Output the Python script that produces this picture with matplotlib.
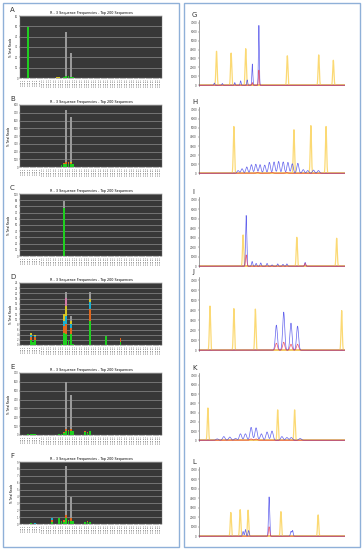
import numpy as np
import matplotlib
matplotlib.use("Agg")
import matplotlib.pyplot as plt
from matplotlib.patches import Rectangle

W, H = 364, 550

# ---- left panels: stacked sequence frequency bars ----
n_cat = 60
cat_labels = ["Seq %d" % (i + 1) for i in range(n_cat)]
stack_colors = ["#1fcf1f", "#e0661c", "#1aaed0", "#d6c424", "#d27aa8", "#9a9a9a"]

a_idx = [3, 15, 16, 18, 19, 20, 21, 22]
a_stack = [[49, 0, 0, 0, 0, 0.5], [0.3, 0, 0, 0.4, 0, 0], [0.2, 0, 0, 0.5, 0, 0],
           [0.8, 0.3, 0, 0, 0, 0], [1.5, 0.5, 0, 0, 0, 42.5], [1.5, 0.5, 0, 0, 0, 0],
           [1.0, 0.4, 0, 0, 0, 22.5], [0.8, 0, 0, 0, 0, 0]]
a_ymax, a_step = 60, 10

b_idx = [17, 18, 19, 20, 21, 22]
b_stack = [[30, 0, 0, 0, 0, 0], [40, 10, 0, 0, 0, 0], [40, 20, 0, 10, 0, 670],
           [45, 15, 0, 0, 0, 0], [40, 15, 0, 10, 0, 575], [35, 10, 0, 0, 0, 0]]
b_ymax, b_step = 800, 100

c_idx = [18]
c_stack = [[77, 0, 0, 0, 0, 12]]
c_ymax, c_step = 100, 10

d_idx = [4, 5, 6, 17, 18, 19, 20, 21, 22, 29, 36, 42]
d_stack = [[1.9, 1.1, 0.9, 0.6, 0, 0.2], [1.2, 0, 0, 0, 0, 0], [2.0, 1.1, 0.3, 0.3, 0, 0.3],
           [0.4, 0, 0, 0, 0, 0], [4.6, 2.7, 2.0, 2.6, 0, 0], [4.2, 4.0, 3.0, 4.0, 3.0, 2.4],
           [1.9, 0, 0, 0, 0, 0], [4.3, 2.4, 1.3, 1.3, 0, 2.0], [0.3, 0, 0, 0, 0, 0],
           [9.3, 4.6, 2.6, 1.3, 0, 2.8], [3.4, 0, 0, 0, 0, 0], [1.0, 1.7, 0, 0, 0, 0]]
d_ymax, d_step = 24, 2

e_idx = [3, 4, 5, 6, 16, 17, 18, 19, 20, 21, 22, 27, 28, 29]
e_stack = [[8, 0, 0, 0, 0, 0], [6, 0, 0, 0, 0, 0], [8, 0, 0, 0, 0, 0], [10, 0, 0, 0, 0, 0],
           [15, 0, 0, 0, 0, 0], [15, 0, 0, 0, 0, 0], [25, 5, 0, 0, 0, 0],
           [40, 30, 0, 0, 0, 525], [45, 15, 0, 0, 0, 0], [40, 30, 0, 0, 0, 385],
           [40, 0, 0, 0, 0, 0], [35, 5, 0, 0, 0, 0], [25, 5, 0, 0, 0, 0], [40, 5, 0, 0, 0, 0]]
e_ymax, e_step = 700, 100

f_idx = [4, 6, 13, 16, 17, 18, 19, 20, 21, 22, 27, 28, 29]
f_stack = [[0.15, 0, 0, 0, 0, 0], [0, 0, 0.1, 0, 0, 0], [0.3, 0.3, 0.3, 0, 0, 0],
           [0.8, 0, 0, 0, 0, 0], [0.4, 0, 0, 0, 0, 0], [0.3, 0.3, 0, 0, 0, 0],
           [0.8, 0.5, 0, 0, 0, 7.1], [0.4, 0.2, 0, 0, 0, 0], [0.5, 0.4, 0, 0, 0, 3.0],
           [0.4, 0.1, 0, 0, 0, 0], [0.3, 0, 0, 0, 0, 0], [0.3, 0.1, 0, 0, 0, 0], [0.3, 0, 0, 0, 0, 0]]
f_ymax, f_step = 9, 1

# ---- right panels: electropherogram peaks (scan position, height RFU) ----
g_yel_x = [120, 220, 320, 605, 820, 920]
g_yel_h = [3800, 3600, 4100, 3300, 3400, 2800]
g_blu_x = [105, 245, 285, 330, 365, 370, 410, 160]
g_blu_h = [250, 300, 500, 600, 2300, 300, 6700, 200]
g_red_x = [410, 365]
g_red_h = [1700, 300]

h_yel_x = [239, 650, 766, 870]
h_yel_h = [5150, 4800, 5250, 5150]
h_blu_x = [268, 295, 327, 359, 389, 418, 450, 482, 514, 545, 577, 609, 639, 677, 714, 745, 784, 818]
h_blu_h = [300, 500, 700, 950, 1000, 950, 900, 1200, 1250, 1300, 1250, 1200, 1050, 1100, 400, 300, 350, 300]
h_red_x = [400, 500, 600]
h_red_h = [80, 100, 80]

i_yel_x = [302, 670, 943]
i_yel_h = [3300, 3050, 2950]
i_blu_x = [323, 364, 391, 423, 466, 500, 539, 575, 602, 727]
i_blu_h = [5350, 500, 300, 350, 300, 150, 250, 200, 250, 400]
i_red_x = [323, 727]
i_red_h = [1200, 300]

j_yel_x = [75, 239, 386, 977]
j_yel_h = [4400, 4150, 4100, 3950]
j_blu_x = [530, 580, 630, 675]
j_blu_h = [2500, 3800, 2700, 2400]
j_red_x = [530, 580, 630, 675]
j_red_h = [700, 800, 600, 600]

k_yel_x = [61, 539, 655]
k_yel_h = [3500, 3300, 3300]
k_blu_x = [125, 170, 211, 250, 284, 318, 357, 391, 427, 466, 500, 568, 602, 632, 693]
k_blu_h = [150, 400, 350, 200, 700, 700, 1400, 1350, 700, 900, 1000, 400, 300, 300, 200]
k_red_x = [357, 391]
k_red_h = [150, 150]

l_yel_x = [218, 282, 336, 561, 816]
l_yel_h = [2500, 2800, 2750, 2600, 2250]
l_blu_x = [302, 318, 340, 480, 630, 641]
l_blu_h = [500, 700, 600, 4150, 500, 600]
l_red_x = [480]
l_red_h = [1000]


def box(x0, y0, x1, y1):
    return [x0 / W, 1 - y1 / H, (x1 - x0) / W, (y1 - y0) / H]


fig = plt.figure(figsize=(W / 100, H / 100), dpi=100)
fig.patch.set_facecolor("white")

# panel frames
for x0 in (3, 184):
    fig.patches.append(Rectangle((x0 / W, 3 / H), 176 / W, 544 / H, transform=fig.transFigure,
                                 fill=False, edgecolor="#8fb0d8", lw=1.0))


def bar_panel(letter, top, idx, stack, ymax, step):
    ax = fig.add_axes(box(20, top, 162, top + 62))
    ax.set_facecolor("#383838")
    bottom = np.zeros(len(idx))
    for k, col in enumerate(stack_colors):
        vals = np.array([s[k] for s in stack])
        ax.bar(idx, vals, bottom=bottom, width=0.75, color=col, linewidth=0, zorder=3)
        bottom += vals
    ax.set_xlim(-0.5, n_cat - 0.5)
    ax.set_ylim(0, ymax)
    ax.set_yticks(np.arange(0, ymax + step / 2, step))
    ax.grid(axis="y", color="#8c8c8c", lw=0.5, zorder=1)
    ax.set_xticks(range(n_cat))
    ax.set_xticklabels(cat_labels, rotation=90, fontsize=1.6, color="#444444")
    ax.tick_params(axis="y", labelsize=1.8, length=0.8, width=0.3, pad=0.5, colors="#444444")
    ax.tick_params(axis="x", length=0.8, width=0.3, pad=0.5)
    for sp in ax.spines.values():
        sp.set_color("#777777")
        sp.set_linewidth(0.3)
    ax.set_title("R - 3 Sequence Frequencies - Top 200 Sequences", fontsize=2.4, pad=1.5)
    ax.set_ylabel("% Total Reads", fontsize=2, labelpad=1.5)
    fig.text(10 / W, 1 - (top - 6) / H, letter, fontsize=5, color="#333333", va="center")


bar_panel("A", 16, a_idx, a_stack, a_ymax, a_step)
bar_panel("B", 105, b_idx, b_stack, b_ymax, b_step)
bar_panel("C", 194, c_idx, c_stack, c_ymax, c_step)
bar_panel("D", 283, d_idx, d_stack, d_ymax, d_step)
bar_panel("E", 373, e_idx, e_stack, e_ymax, e_step)
bar_panel("F", 462, f_idx, f_stack, f_ymax, f_step)

scan = np.linspace(0, 1000, 3000)


def trace(px, ph, width):
    y = np.zeros_like(scan)
    for p, h in zip(px, ph):
        y += h * np.exp(-0.5 * ((scan - p) / width) ** 2)
    return y


def peak_panel(letter, top, bot, yel, blu, red, bw):
    ax = fig.add_axes(box(199, top, 345, bot))
    ax.plot(scan, trace(*yel, 4), color="#fbd35c", lw=0.9, alpha=0.85, zorder=2)
    ax.plot(scan, trace(*blu, bw), color="#3c3ce8", lw=0.5, alpha=0.8, zorder=3)
    ax.plot(scan, trace(*red, bw), color="#e8304a", lw=0.5, alpha=0.8, zorder=4)
    ax.axhline(30, color="#dcae66", lw=1.2, zorder=1)
    ax.set_xlim(0, 1000)
    ax.set_ylim(-80, 7300)
    ax.set_yticks(range(0, 7001, 1000))
    ax.set_xticks([])
    ax.tick_params(axis="y", labelsize=2, length=1, width=0.3, pad=0.5, colors="#444444")
    for s in ("top", "right", "bottom"):
        ax.spines[s].set_visible(False)
    ax.spines["left"].set_linewidth(0.4)
    ax.spines["left"].set_color("#555555")
    fig.text(192 / W, 1 - (top - 5) / H, letter, fontsize=5, color="#333333", va="center")


peak_panel("G", 20, 86, (g_yel_x, g_yel_h), (g_blu_x, g_blu_h), (g_red_x, g_red_h), 3)
peak_panel("H", 107, 174, (h_yel_x, h_yel_h), (h_blu_x, h_blu_h), (h_red_x, h_red_h), 7)
peak_panel("I", 197, 267, (i_yel_x, i_yel_h), (i_blu_x, i_blu_h), (i_red_x, i_red_h), 4)
peak_panel("J", 277, 351, (j_yel_x, j_yel_h), (j_blu_x, j_blu_h), (j_red_x, j_red_h), 7)
peak_panel("K", 373, 441, (k_yel_x, k_yel_h), (k_blu_x, k_blu_h), (k_red_x, k_red_h), 8)
peak_panel("L", 467, 537, (l_yel_x, l_yel_h), (l_blu_x, l_blu_h), (l_red_x, l_red_h), 4)

fig.savefig("out.png", dpi=100)
